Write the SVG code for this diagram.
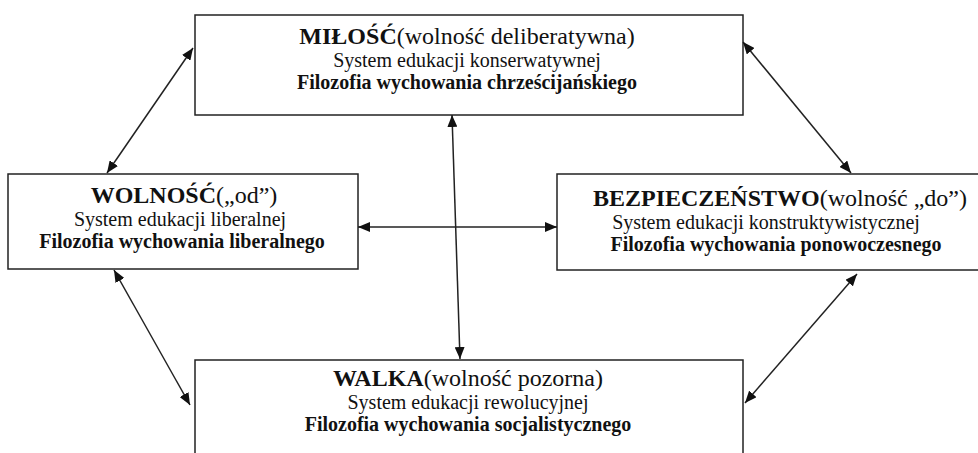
<svg xmlns="http://www.w3.org/2000/svg" width="978" height="453" viewBox="0 0 978 453">
<defs>
<style>
.box{fill:#fff;stroke:#222;stroke-width:1.5}
.t{font-family:"Liberation Serif","Times New Roman",serif;fill:#111;text-anchor:middle}
.h{font-size:24px}
.s{font-size:20px}
.b{font-weight:bold}
.c{stroke:#222;stroke-width:1.5;fill:none;marker-start:url(#ah);marker-end:url(#ah)}
</style>
<marker id="ah" viewBox="0 0 12 10" refX="12" refY="5" markerWidth="12" markerHeight="10" markerUnits="userSpaceOnUse" orient="auto-start-reverse">
<path d="M0,0 L12,5 L0,10 z" fill="#111"/>
</marker>
</defs>
<rect width="978" height="453" fill="#fff"/>
<g id="milosc">
<rect class="box" x="195" y="15" width="548" height="100"/>
<text class="t h" x="467" y="44"><tspan class="b">MIŁOŚĆ</tspan>(wolność deliberatywna)</text>
<text class="t s" x="467" y="67">System edukacji konserwatywnej</text>
<text class="t s b" x="467" y="89">Filozofia wychowania chrześcijańskiego</text>
</g>
<g id="wolnosc">
<rect class="box" x="8" y="174" width="350" height="95"/>
<text class="t h" x="184" y="203"><tspan class="b">WOLNOŚĆ</tspan>(„od”)</text>
<text class="t s" x="180" y="226">System edukacji liberalnej</text>
<text class="t s b" x="182" y="248">Filozofia wychowania liberalnego</text>
</g>
<g id="bezpieczenstwo">
<rect class="box" x="557" y="174" width="430" height="96"/>
<text class="t h" x="780" y="206"><tspan class="b">BEZPIECZEŃSTWO</tspan>(wolność „do”)</text>
<text class="t s" x="766" y="229">System edukacji konstruktywistycznej</text>
<text class="t s b" x="776" y="251">Filozofia wychowania ponowoczesnego</text>
</g>
<g id="walka">
<rect class="box" x="195" y="360" width="548" height="110"/>
<text class="t h" x="468" y="386"><tspan class="b">WALKA</tspan>(wolność pozorna)</text>
<text class="t s" x="468" y="409">System edukacji rewolucyjnej</text>
<text class="t s b" x="468" y="431">Filozofia wychowania socjalistycznego</text>
</g>
<g id="connectors">
<line class="c" x1="193" y1="48" x2="107" y2="173"/>
<line class="c" x1="743" y1="42" x2="851" y2="173"/>
<line class="c" x1="114" y1="270" x2="190" y2="405"/>
<line class="c" x1="857" y1="274" x2="745" y2="403"/>
<line class="c" x1="452" y1="115" x2="460" y2="359"/>
<line class="c" x1="358" y1="227" x2="557" y2="227"/>
</g>
</svg>
